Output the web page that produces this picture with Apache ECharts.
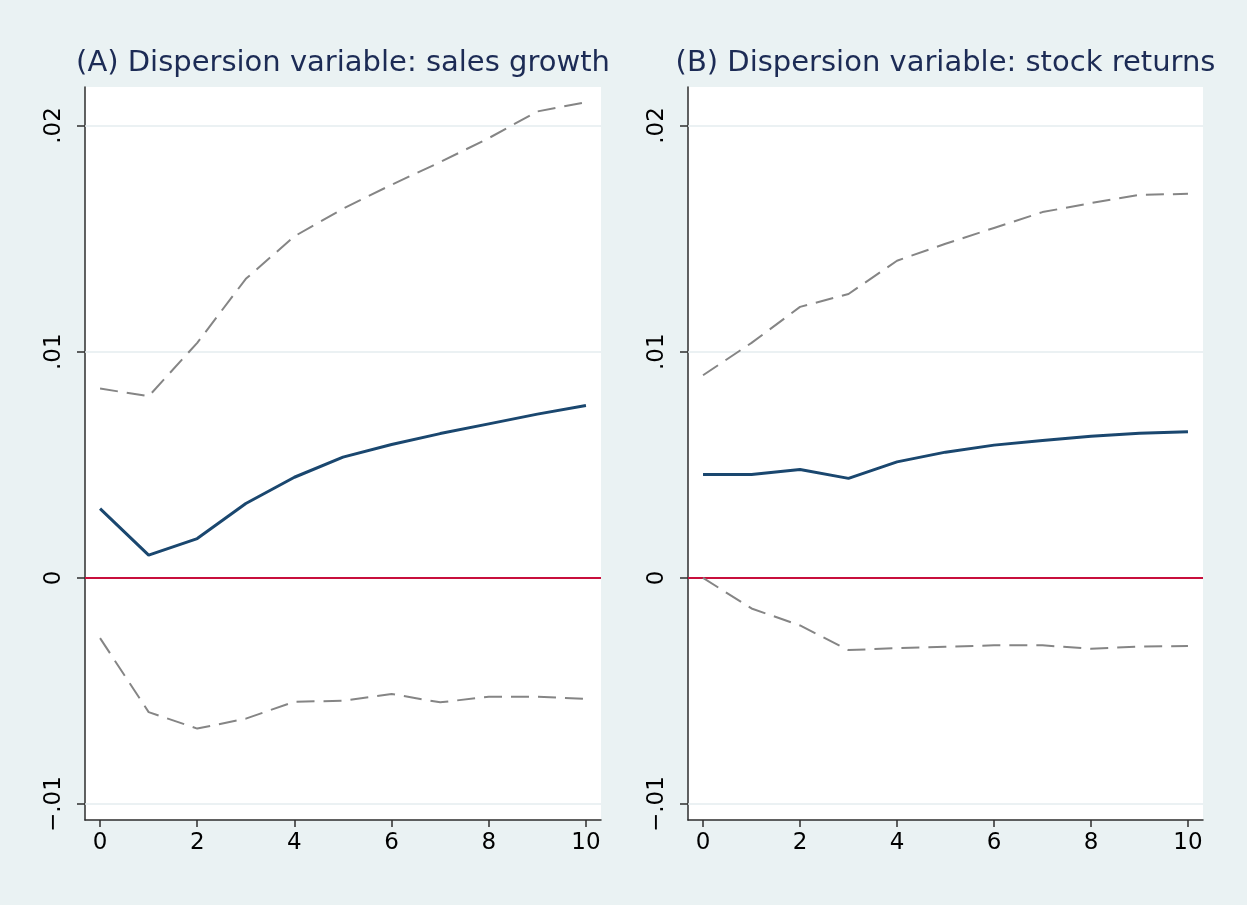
<!DOCTYPE html>
<html>
<head>
<meta charset="utf-8">
<title>Impulse responses to dispersion shocks</title>
<script src="https://cdn.jsdelivr.net/npm/echarts@6/dist/echarts.min.js"></script>
<style>
  html, body { margin: 0; padding: 0; background: #EAF2F3; }
  #chart { width: 1247px; height: 905px; }
</style>
</head>
<body>
<div id="chart"></div>
<script>
// Horizon (periods after the shock)
const horizon = [0, 1, 2, 3, 4, 5, 6, 7, 8, 9, 10];

// Panel A: dispersion measured by sales growth
const irfA   = [0.00306, 0.00101, 0.00174, 0.00329, 0.00445, 0.00534, 0.00590, 0.00638, 0.00681, 0.00724, 0.00762];
const upperA = [0.00837, 0.00803, 0.01039, 0.01322, 0.01510, 0.01632, 0.01738, 0.01838, 0.01944, 0.02062, 0.02103];
const lowerA = [-0.00266, -0.00593, -0.00666, -0.00622, -0.00547, -0.00543, -0.00513, -0.00550, -0.00525, -0.00525, -0.00535];

// Panel B: dispersion measured by stock returns
const irfB   = [0.00457, 0.00457, 0.00479, 0.00440, 0.00513, 0.00556, 0.00587, 0.00607, 0.00626, 0.00640, 0.00646];
const upperB = [0.00896, 0.01039, 0.01198, 0.01255, 0.01402, 0.01477, 0.01547, 0.01617, 0.01657, 0.01693, 0.01698];
const lowerB = [0, -0.00135, -0.00210, -0.00319, -0.00310, -0.00304, -0.00298, -0.00298, -0.00313, -0.00303, -0.00301];

// Panel titles and axis ticks
const panelTitles = ['(A) Dispersion variable: sales growth', '(B) Dispersion variable: stock returns'];
const xTicks = [0, 2, 4, 6, 8, 10];
const yTicks = [-0.01, 0, 0.01, 0.02];
const yTickLabels = ['\u2212.01', '0', '.01', '.02'];
const gridValues = [-0.01, 0.01, 0.02];

const FONT = 'DejaVu Sans';
const NAVY = '#1A476F';
const CI_GRAY = '#858585';
const ZERO_RED = '#C80F3C';
const GRID_TINT = '#E4EDEF';

const panels = [
  { irf: irfA, upper: upperA, lower: lowerA, grid: { left: 85, right: 646, top: 87, bottom: 85 }, center: 343 },
  { irf: irfB, upper: upperB, lower: lowerB, grid: { left: 688, right: 44, top: 87, bottom: 85 }, center: 945.5 }
];

const pairs = ys => horizon.map((h, i) => [h, ys[i]]);

const option = {
  backgroundColor: '#EAF2F3',
  animation: false,
  title: panels.map((p, i) => ({
    text: panelTitles[i],
    left: p.center,
    top: 63,
    textAlign: 'center',
    textVerticalAlign: 'middle',
    padding: 0,
    textStyle: { fontFamily: FONT, fontSize: 29, fontWeight: 'normal', color: '#1C2B55' }
  })),
  grid: panels.map(p => Object.assign({ show: true, backgroundColor: '#FFFFFF', borderWidth: 0, containLabel: false }, p.grid)),
  xAxis: panels.map((p, i) => ({
    type: 'value',
    gridIndex: i,
    min: -0.31,
    max: 10.31,
    axisLine: { show: true, onZero: false, lineStyle: { color: '#2E2E2E', width: 1.5 } },
    axisTick: { show: true, customValues: xTicks, length: 7, lineStyle: { color: '#2E2E2E', width: 1.5 } },
    axisLabel: {
      customValues: xTicks, margin: 12, fontFamily: FONT, fontSize: 23, lineHeight: 23, color: '#000000',
      formatter: v => String(v)
    },
    splitLine: { show: false }
  })),
  yAxis: panels.map((p, i) => ({
    type: 'value',
    gridIndex: i,
    min: -0.0107,
    max: 0.0217,
    axisLine: { show: true, onZero: false, lineStyle: { color: '#2E2E2E', width: 1.5 } },
    axisTick: { show: true, customValues: yTicks, length: 8, lineStyle: { color: '#2E2E2E', width: 1.5 } },
    axisLabel: {
      customValues: yTicks, rotate: 90, margin: 19, fontFamily: FONT, fontSize: 23, lineHeight: 23, color: '#000000',
      formatter: v => {
        const k = yTicks.findIndex(t => Math.abs(t - v) < 1e-9);
        return k >= 0 ? yTickLabels[k] : '';
      }
    },
    splitLine: { show: false }
  })),
  series: []
};

panels.forEach((p, i) => {
  // upper confidence band, carries the gridlines and the zero reference line
  option.series.push({
    type: 'line', xAxisIndex: i, yAxisIndex: i, z: 3,
    data: pairs(p.upper), symbol: 'none', silent: true,
    lineStyle: { color: CI_GRAY, width: 2, type: [18, 9] },
    markLine: {
      z: 1, silent: true, symbol: 'none', animation: false,
      label: { show: false },
      data: gridValues.map(v => ({ yAxis: v, lineStyle: { color: GRID_TINT, width: 1.6, type: 'solid' } }))
        .concat([{ yAxis: 0, lineStyle: { color: ZERO_RED, width: 2.2, type: 'solid' } }])
    }
  });
  option.series.push({
    type: 'line', xAxisIndex: i, yAxisIndex: i, z: 3,
    data: pairs(p.lower), symbol: 'none', silent: true,
    lineStyle: { color: CI_GRAY, width: 2, type: [18, 9] }
  });
  option.series.push({
    type: 'line', xAxisIndex: i, yAxisIndex: i, z: 4,
    data: pairs(p.irf), symbol: 'none', silent: true,
    lineStyle: { color: NAVY, width: 3 }
  });
});

const chart = echarts.init(document.getElementById('chart'), null, { renderer: 'canvas' });
chart.setOption(option);
</script>
</body>
</html>
